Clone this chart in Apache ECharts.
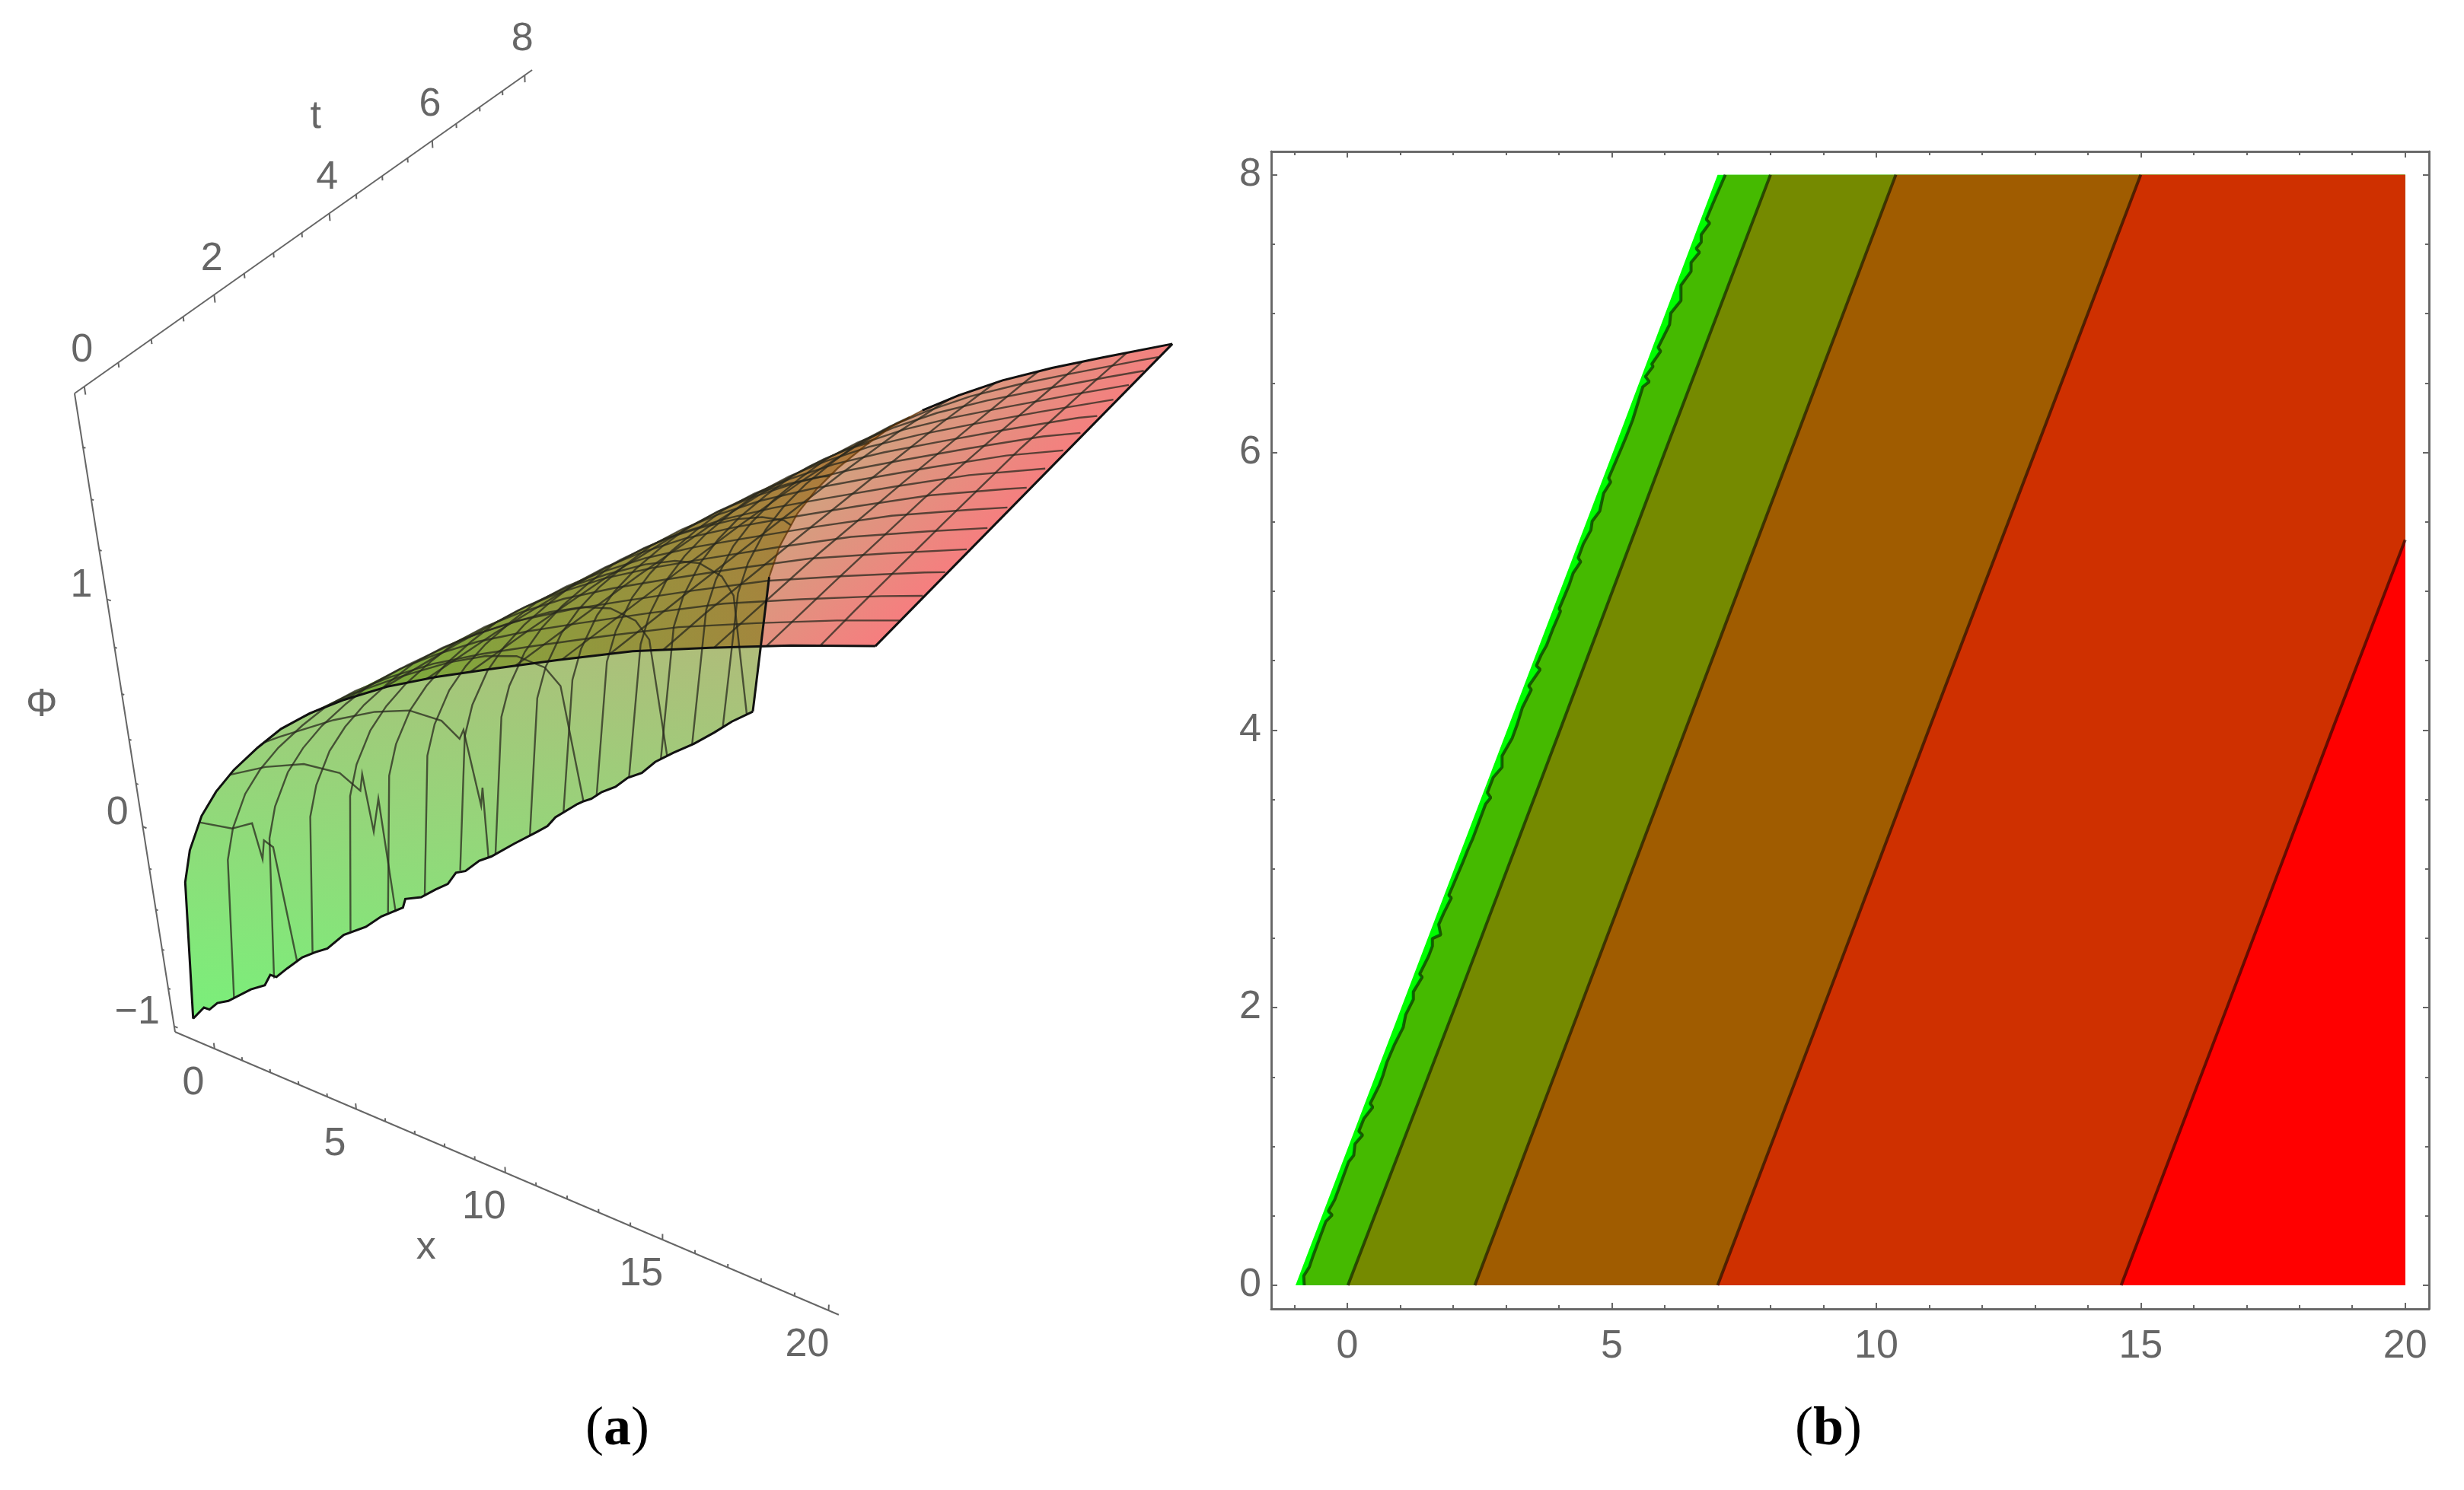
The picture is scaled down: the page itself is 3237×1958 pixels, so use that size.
<!DOCTYPE html>
<html>
<head>
<meta charset="utf-8">
<title>chart</title>
<script src="https://cdn.jsdelivr.net/npm/echarts@6/dist/echarts.min.js"></script>
<style>
  html, body { margin: 0; padding: 0; background: #fff; }
  #chart { width: 3237px; height: 1958px; }
</style>
</head>
<body>
<div id="chart"></div>
<script>
// --- panel (a): surface values ---
// phi as a function of xi = x - t, read along the t=0 edge
var xiValues = [-1, -0.53, -0.19, 0.41, 1.04, 1.76, 2.66, 3.51, 4.5, 5.64, 7, 8.5, 10, 12, 14, 16, 18, 20];
var phiValues = [-1, -0.254, -0.082, 0.111, 0.255, 0.39, 0.533, 0.656, 0.77, 0.882, 1.0, 1.11, 1.21, 1.34, 1.465, 1.57, 1.67, 1.76];
var foldXi = 4.5; // generator where the sheet folds over
// jagged lower edge (x = t - 1)
var frontT = [0, 0.14, 0.2, 0.3, 0.43, 0.71, 0.88, 0.96, 1.03, 1.17, 1.37, 1.54, 1.69, 1.91, 2.2, 2.41, 2.7, 2.74, 2.95, 3.15, 3.32, 3.44, 3.57, 3.77, 3.94, 4.27, 4.6, 4.76, 4.88, 5.21, 5.29, 5.42, 5.58, 5.79, 5.98, 6.2, 6.41, 6.7, 7.03, 7.36, 7.65, 8];
var frontPhi = [-0.975, -0.95, -0.975, -0.965, -0.985, -0.99, -1.009, -0.972, -1, -0.987, -0.974, -0.985, -1, -0.978, -1, -0.991, -1.008, -0.97, -1.007, -1.009, -1.016, -0.981, -1, -0.987, -1, -1, -1.005, -1.006, -0.982, -0.977, -0.98, -0.991, -0.986, -1, -0.988, -1.005, -0.985, -0.991, -1.005, -1.006, -1, -1.01];
// mesh lines
var meshX = [0.3, 1.6, 2.9, 4.3, 5.6, 6.9, 8.2, 9.5, 10.8, 12.1, 13.4, 14.8, 16.1, 17.4, 18.7];
var meshT = [0.5, 1, 1.5, 2, 2.5, 3, 3.5, 4, 4.5, 5, 5.5, 6, 6.5, 7, 7.5];
// the first three x lines break up near the front
var dipX = [0.3, 1.6, 2.9];
var dipT = [[0.82, 0.92, 0.98, 1.12], [2.19, 2.31, 2.45], [3.52, 3.8, 3.85]];
var dipPhi = [[-0.143, -0.345, -0.268, -0.339], [-0.187, -0.507, -0.376], [-0.231, -0.69, -0.609]];
// tick labels of the box
var tTicks = [0, 2, 4, 6, 8];
var phiTicks = [-1, 0, 1];
var xTicks3d = [0, 5, 10, 15, 20];
var tMinor = [0, 0.5, 1, 1.5, 2, 2.5, 3, 3.5, 4, 4.5, 5, 5.5, 6, 6.5, 7, 7.5, 8];
var phiMinor = [-1, -0.8, -0.6, -0.4, -0.2, 0, 0.2, 0.4, 0.6, 0.8, 1, 1.2, 1.4, 1.6];
var xMinor3d = [0, 1, 2, 3, 4, 5, 6, 7, 8, 9, 10, 11, 12, 13, 14, 15, 16, 17, 18, 19, 20];

// --- panel (b): contour lines, [x at contourT[i]] ---
var contourT = [0, 2, 4.05, 6, 8];
var edgeX = [-0.98, 1.02, 3.07, 5.02, 7.0];
var level1T = [0, 0.068, 0.132, 0.214, 0.46, 0.506, 0.534, 0.616, 0.689, 0.89, 0.936, 1.018, 1.082, 1.109, 1.201, 1.283, 1.31, 1.438, 1.511, 1.603, 1.731, 1.858, 1.95, 2.059, 2.114, 2.22, 2.242, 2.37, 2.443, 2.498, 2.525, 2.599, 2.681, 2.791, 2.809, 3.047, 3.138, 3.221, 3.467, 3.513, 3.549, 3.659, 3.732, 3.814, 3.942, 4.043, 4.162, 4.29, 4.317, 4.436, 4.463, 4.545, 4.609, 4.728, 4.856, 4.874, 5.048, 5.13, 5.212, 5.24, 5.34, 5.44, 5.504, 5.577, 5.705, 5.787, 5.815, 6.007, 6.116, 6.235, 6.473, 6.509, 6.546, 6.619, 6.637, 6.728, 6.756, 6.92, 7.003, 7.094, 7.204, 7.304, 7.368, 7.441, 7.469, 7.514, 7.569, 7.651, 7.679, 7.788, 8];
var level1X = [-0.815, -0.825, -0.719, -0.647, -0.407, -0.288, -0.36, -0.24, -0.168, 0.024, 0.12, 0.144, 0.288, 0.216, 0.312, 0.48, 0.432, 0.6, 0.672, 0.744, 0.887, 1.055, 1.103, 1.247, 1.247, 1.415, 1.367, 1.535, 1.607, 1.607, 1.765, 1.727, 1.822, 1.966, 1.918, 2.182, 2.278, 2.374, 2.614, 2.71, 2.647, 2.758, 2.925, 2.925, 3.117, 3.213, 3.309, 3.477, 3.429, 3.645, 3.573, 3.669, 3.765, 3.885, 4.029, 4.005, 4.196, 4.268, 4.412, 4.364, 4.46, 4.604, 4.628, 4.772, 4.844, 4.978, 4.94, 5.155, 5.275, 5.395, 5.587, 5.707, 5.635, 5.779, 5.755, 5.923, 5.875, 6.091, 6.115, 6.307, 6.307, 6.498, 6.498, 6.657, 6.594, 6.69, 6.69, 6.849, 6.786, 6.906, 7.146];
var level2X = [0.01, 2.03, 4.07, 6.0, 8.0];
var level3X = [2.41, 4.4, 6.44, 8.38, 10.37];
var level4X = [7, 9.0, 11.04, 13.0, 15];
var level5T = [0, 2, 4.05, 5.37];
var level5X = [14.63, 16.63, 18.67, 20];
var bandColors = ['#00ff00', '#45ba00', '#758a00', '#a05c00', '#cf3000', '#ff0000'];
var xTicks2d = [0, 5, 10, 15, 20];
var xMinor2d = [-1, 1, 2, 3, 4, 6, 7, 8, 9, 11, 12, 13, 14, 16, 17, 18, 19];
var yTicks2d = [0, 2, 4, 6, 8];
var yMinor2d = [0.5, 1, 1.5, 2.5, 3, 3.5, 4.5, 5, 5.5, 6.5, 7, 7.5];

var GREY = '#666666';
var LABEL_FONT = '"Liberation Sans", sans-serif';

// perspective of the 3d box, fitted to its corners and ticks
function project(x, t, z) {
  var u = (x + 1.44) / 21.65;
  var v = (t + 0.14) / 8.31;
  var w = (z + 1.03) / 2.83;
  var d = 1 - 0.108 * u + 0.22 * v - 0.172 * w;
  return [(230 + 749.3 * u + 651.5 * v - 148.9 * w) / d, (1356 + 183.6 * u - 331.7 * v - 927.9 * w) / d];
}

function phiAt(xi) {
  for (var i = 1; i < xiValues.length; i++) {
    if (xi <= xiValues[i]) {
      var f = (xi - xiValues[i - 1]) / (xiValues[i] - xiValues[i - 1]);
      return phiValues[i - 1] + f * (phiValues[i] - phiValues[i - 1]);
    }
  }
  return phiValues[phiValues.length - 1];
}

function frontAt(t) {
  var best = 0;
  for (var i = 0; i < frontT.length; i++) {
    if (Math.abs(frontT[i] - t) < Math.abs(frontT[best] - t)) best = i;
  }
  return frontPhi[best];
}

// line of constant t, from the front to x = 20
function tLine(t) {
  var pts = [project(t - 1, t, frontAt(t))];
  for (var i = 1; i < xiValues.length; i++) {
    if (xiValues[i] + t >= 20) break;
    pts.push(project(xiValues[i] + t, t, phiValues[i]));
  }
  pts.push(project(20, t, phiAt(20 - t)));
  return pts;
}

// line of constant x, from t = 0 until t = 8 or the front
function xLine(x) {
  var last = Math.min(8, x + 1);
  var dip = dipX.indexOf(x);
  var pts = [project(x, 0, phiAt(x))];
  for (var i = xiValues.length - 1; i >= 1; i--) {
    var t = x - xiValues[i];
    if (t > 0 && t < last && (dip < 0 || t < dipT[dip][0])) pts.push(project(x, t, phiValues[i]));
  }
  if (dip >= 0) {
    dipT[dip].forEach(function (dt, k) { pts.push(project(x, dt, dipPhi[dip][k])); });
  }
  pts.push(project(x, last, last === 8 ? phiAt(x - 8) : frontAt(last)));
  return pts;
}

function frontLine() {
  return frontT.map(function (t, i) { return project(t - 1, t, frontPhi[i]); });
}

// sheet pieces of the surface either side of the fold
var t0Low = [], t8Low = [], t0High = [], t8High = [];
xiValues.forEach(function (xi, i) {
  if (xi > -1 && xi <= foldXi) {
    t0Low.push(project(xi, 0, phiValues[i]));
    t8Low.push(project(xi + 8, 8, phiValues[i]));
  }
  if (xi >= foldXi) {
    t0High.push(project(xi, 0, phiValues[i]));
    if (xi <= 12) t8High.push(project(xi + 8, 8, phiValues[i]));
  }
});
var t0Start = project(-1, 0, frontPhi[0]);
var sheetLow = frontLine().concat(t8Low, t0Low.slice().reverse());
var sheetHigh = t0High.concat(t8High.slice().reverse());

function gradient(x0, y0, x1, y1, from, to) {
  return new echarts.graphic.LinearGradient(x0, y0, x1, y1, [{ offset: 0, color: from }, { offset: 1, color: to }], true);
}

// both sheets are half transparent, green at x = -1 and red at x = 20
var sheets = [
  gradient(519, 541, 972, 1011, 'rgba(0,225,0,0.5)', 'rgba(235,0,0,0.5)'),
  gradient(255, 1340, 526, -62, 'rgba(0,225,0,0.52)', 'rgba(235,0,0,0.52)')
];
var sheetShapes = [sheetHigh, sheetLow];

// mesh and outline polylines
var meshLines = [];
meshT.forEach(function (t) { meshLines.push(tLine(t)); });
meshX.forEach(function (x) { meshLines.push(xLine(x)); });

var edgeLines = [
  frontLine(),
  [t0Start].concat(t0Low, t0High),
  [frontLine().pop(), t8Low[0]],
  t8High,
  [project(20, 0, phiAt(20)), project(20, 8, phiAt(12))]
];
// the part of the far edge seen through the other sheet is faint
var faintEdge = t8Low.concat([t8High[0]]);

// the box axes and their little ticks
var boxLines = [
  [project(-1.44, -0.14, 1.8), project(-1.44, 8.17, 1.8)],
  [project(-1.44, -0.14, 1.8), project(-1.44, -0.14, -1.03)],
  [project(-1.44, -0.14, -1.03), project(20.3, -0.14, -1.03)]
];
tMinor.forEach(function (t) {
  var len = t % 2 === 0 ? 0.03 : 0.018;
  boxLines.push([project(-1.44, t, 1.8), project(-1.44, t, 1.8 - len)]);
});
phiMinor.forEach(function (z) {
  var len = Math.abs(z - Math.round(z)) < 0.01 ? 0.13 : 0.08;
  boxLines.push([project(-1.44, -0.14, z), project(-1.44 + len, -0.14, z)]);
});
xMinor3d.forEach(function (x) {
  var len = x % 5 === 0 ? 0.03 : 0.018;
  boxLines.push([project(x, -0.14, -1.03), project(x, -0.14, -1.03 + len)]);
});

// box labels sit at a fixed offset from their tick
var boxLabels = [];
tTicks.forEach(function (t) {
  var p = project(-1.44, t, 1.8);
  boxLabels.push({ text: String(t), x: p[0] - 3, y: p[1] - 47, align: 'center' });
});
phiTicks.forEach(function (z) {
  var p = project(-1.44, -0.14, z);
  boxLabels.push({ text: z < 0 ? '\u2212' + (-z) : String(z), x: p[0] - 19, y: p[1] - 18, align: 'right' });
});
xTicks3d.forEach(function (x) {
  var p = project(x, -0.14, -1.03);
  boxLabels.push({ text: String(x), x: p[0] - 28, y: p[1] + 46, align: 'center' });
});
var tMid = project(-1.44, 4, 1.8);
var phiMid = project(-1.44, -0.14, 0.5);
var xMid = project(10, -0.14, -1.03);
boxLabels.push({ text: 't', x: tMid[0] - 18, y: tMid[1] - 127, align: 'center' });
boxLabels.push({ text: '\u03a6', x: phiMid[0] - 110, y: phiMid[1] - 15, align: 'center' });
boxLabels.push({ text: 'x', x: xMid[0] - 104, y: xMid[1] + 99, align: 'center' });

function polyItem(points, api, style) {
  return {
    type: 'polygon',
    shape: { points: points.map(function (p) { return api.coord(p); }) },
    style: style
  };
}

function lineItem(points, api, style) {
  return {
    type: 'polyline',
    shape: { points: points.map(function (p) { return api.coord(p); }) },
    style: style
  };
}

function planeSeries(list, renderOne, z) {
  return {
    type: 'custom',
    coordinateSystem: 'cartesian2d',
    xAxisIndex: 0,
    yAxisIndex: 0,
    z: z,
    silent: true,
    clip: false,
    data: list.map(function (d, i) { return [i]; }),
    renderItem: function (params, api) { return renderOne(list[params.dataIndex], api, params.dataIndex); }
  };
}

// --- panel (b) polygons: each one runs to x = 20, painted left to right ---
function bandPoints(ts, xs) {
  var pts = ts.map(function (t, i) { return [xs[i], t]; });
  pts.push([20, ts[ts.length - 1]]);
  pts.push([20, 0]);
  return pts;
}

var bands = [
  bandPoints(contourT, edgeX),
  bandPoints(level1T, level1X),
  bandPoints(contourT, level2X),
  bandPoints(contourT, level3X),
  bandPoints(contourT, level4X),
  bandPoints(level5T, level5X)
];

function contourSeries(ts, xs) {
  return {
    type: 'line',
    xAxisIndex: 1,
    yAxisIndex: 1,
    z: 5,
    silent: true,
    showSymbol: false,
    lineStyle: { color: 'rgba(0,0,0,0.55)', width: 4 },
    data: ts.map(function (t, i) { return [xs[i], t]; })
  };
}

function frameX(position, values, length, showLabel) {
  return {
    type: 'value',
    gridIndex: 1,
    position: position,
    min: -1.44,
    max: 20.45,
    splitLine: { show: false },
    axisLine: { show: true, onZero: false, lineStyle: { color: GREY, width: 2.5 } },
    axisTick: { show: true, inside: true, length: length, customValues: values, lineStyle: { color: GREY, width: 2 } },
    axisLabel: showLabel
      ? { show: true, customValues: values, margin: 24, color: GREY, fontSize: 52, fontFamily: LABEL_FONT }
      : { show: false }
  };
}

function frameY(position, values, length, showLabel) {
  return {
    type: 'value',
    gridIndex: 1,
    position: position,
    min: -0.17,
    max: 8.168,
    splitLine: { show: false },
    axisLine: { show: true, onZero: false, lineStyle: { color: GREY, width: 2.5 } },
    axisTick: { show: true, inside: true, length: length, customValues: values, lineStyle: { color: GREY, width: 2 } },
    axisLabel: showLabel
      ? { show: true, customValues: values, margin: 13, color: GREY, fontSize: 52, fontFamily: LABEL_FONT }
      : { show: false }
  };
}

function caption(text, left) {
  return {
    text: text, left: left, top: 1874, textAlign: 'center', textVerticalAlign: 'middle',
    textStyle: { fontWeight: 'normal', rich: {
      r: { fontFamily: '"Liberation Serif", serif', fontSize: 72, fontWeight: 'normal', color: '#000' },
      b: { fontFamily: '"Liberation Serif", serif', fontSize: 72, fontWeight: 'bold', color: '#000' }
    } }
  };
}

var option = {
  backgroundColor: '#ffffff',
  animation: false,
  title: [caption('{r|(}{b|a}{r|)}', 806), caption('{r|(}{b|b}{r|)}', 2397)],
  grid: [
    { left: 0, top: 0, width: 3237, height: 1958 },
    { left: 1670, top: 199, width: 1521, height: 1521 }
  ],
  xAxis: [
    { type: 'value', gridIndex: 0, min: 0, max: 3237, show: false },
    frameX('bottom', xTicks2d, 8, true),
    frameX('top', xTicks2d, 8, false),
    frameX('bottom', xMinor2d, 5, false),
    frameX('top', xMinor2d, 5, false)
  ],
  yAxis: [
    { type: 'value', gridIndex: 0, min: 0, max: 1958, inverse: true, show: false },
    frameY('left', yTicks2d, 8, true),
    frameY('right', yTicks2d, 8, false),
    frameY('left', yMinor2d, 5, false),
    frameY('right', yMinor2d, 5, false)
  ],
  series: [
    planeSeries(sheetShapes, function (pts, api, i) {
      return polyItem(pts, api, { fill: sheets[i], stroke: null });
    }, 2),
    planeSeries(meshLines, function (pts, api) {
      return lineItem(pts, api, { fill: null, stroke: 'rgba(40,40,30,0.75)', lineWidth: 2.4 });
    }, 3),
    planeSeries([faintEdge], function (pts, api) {
      return lineItem(pts, api, { fill: null, stroke: 'rgba(90,45,0,0.7)', lineWidth: 2.2 });
    }, 3),
    planeSeries(edgeLines, function (pts, api) {
      return lineItem(pts, api, { fill: null, stroke: '#111', lineWidth: 3 });
    }, 4),
    planeSeries(boxLines, function (pts, api) {
      return lineItem(pts, api, { fill: null, stroke: GREY, lineWidth: 2 });
    }, 4),
    planeSeries(boxLabels, function (d, api) {
      var p = api.coord([d.x, d.y]);
      return {
        type: 'text',
        style: { text: d.text, x: p[0], y: p[1], fill: GREY, font: '52px ' + LABEL_FONT, align: d.align, verticalAlign: 'middle' }
      };
    }, 5),
    {
      type: 'custom',
      coordinateSystem: 'cartesian2d',
      xAxisIndex: 1,
      yAxisIndex: 1,
      z: 2,
      silent: true,
      data: bands.map(function (b, i) { return [i]; }),
      renderItem: function (params, api) {
        return polyItem(bands[params.dataIndex], api, { fill: bandColors[params.dataIndex], stroke: null });
      }
    },
    contourSeries(level1T, level1X),
    contourSeries(contourT, level2X),
    contourSeries(contourT, level3X),
    contourSeries(contourT, level4X),
    contourSeries(level5T, level5X)
  ]
};

var myChart = echarts.init(document.getElementById('chart'), null, { renderer: 'canvas', devicePixelRatio: 1 });
myChart.setOption(option);
</script>
</body>
</html>
